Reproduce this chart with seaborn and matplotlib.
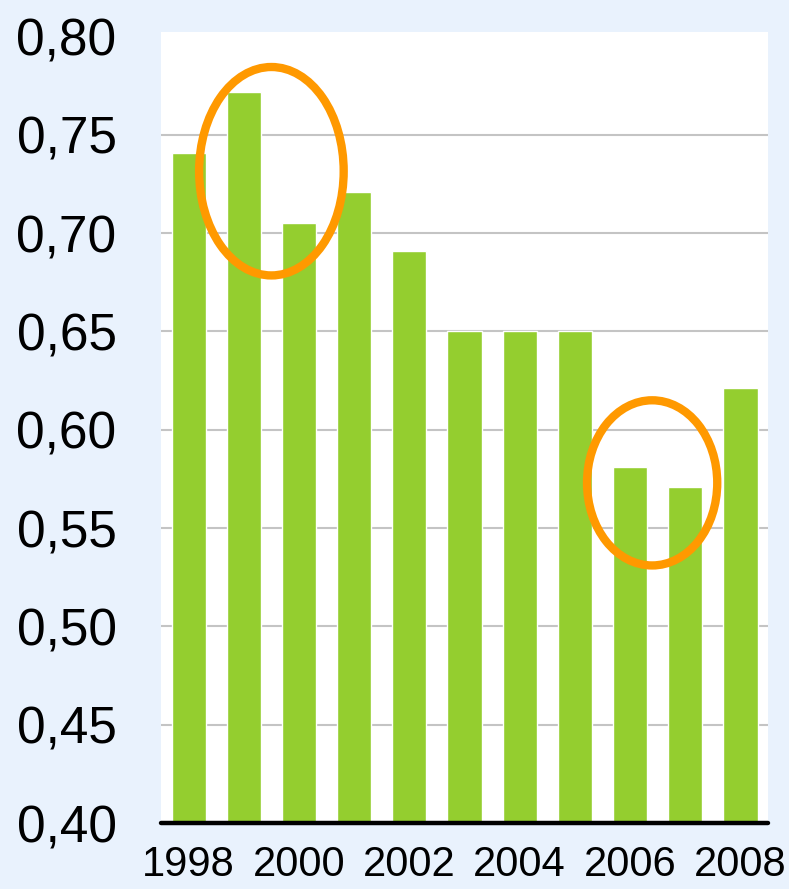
import pandas as pd
import matplotlib.pyplot as plt
import seaborn as sns
from matplotlib.patches import Ellipse
from matplotlib.ticker import FuncFormatter

sns.set_theme(style="white")
plt.rcParams['font.family'] = ['Liberation Sans', 'DejaVu Sans']

# Data
years = [1998, 1999, 2000, 2001, 2002, 2003, 2004, 2005, 2006, 2007, 2008]
values = [0.741, 0.772, 0.705, 0.721, 0.691, 0.65, 0.65, 0.65, 0.581, 0.571, 0.621]
# pairs of years circled in orange
highlights = [(1999, 2000), (2006, 2007)]

df = pd.DataFrame({'Year': [str(y) for y in years], 'Value': values})

bg = '#E9F2FD'
fig = plt.figure(figsize=(7.89, 8.89), dpi=100, facecolor=bg)
ax = fig.add_axes([0.2041, 0.0742, 0.7693, 0.8898])
ax.set_facecolor('white')

sns.barplot(data=df, x='Year', y='Value', color='#94CE2F', saturation=1,
            width=0.62, ax=ax, zorder=2)

ax.set_ylim(0.40, 0.8023)
ax.set_xlim(-0.5, len(years) - 0.5)
ax.set_yticks([0.40, 0.45, 0.50, 0.55, 0.60, 0.65, 0.70, 0.75, 0.80])
ax.yaxis.set_major_formatter(FuncFormatter(lambda v, p: f"{v:.2f}".replace('.', ',')))
for y in [0.45, 0.50, 0.55, 0.60, 0.65, 0.70, 0.75]:
    ax.axhline(y, color='#C4C4C4', linewidth=1.5, zorder=1)

ax.set_xticks(range(0, len(years), 2))
ax.set_xticklabels([str(y) for y in years[::2]])
ax.tick_params(axis='y', length=0, labelsize=37, pad=32, colors='black')
ax.tick_params(axis='x', length=0, labelsize=30, pad=16, colors='black')
ax.set_xlabel('')
ax.set_ylabel('')

for side in ['top', 'right', 'left']:
    ax.spines[side].set_visible(False)
ax.spines['bottom'].set_color('black')
ax.spines['bottom'].set_linewidth(3.2)
ax.spines['bottom'].set_capstyle('round')
ax.spines['bottom'].set_zorder(5)

# orange ellipses around the highlighted pairs
sizes = [(2.62, 0.106), (2.36, 0.084)]
offsets = [(0.0, -0.007), (-0.1, -0.003)]
for (a, b), (w, h), (dx, dy) in zip(highlights, sizes, offsets):
    ia, ib = years.index(a), years.index(b)
    cx = (ia + ib) / 2 + dx
    cy = (values[ia] + values[ib]) / 2 + dy
    ax.add_patch(Ellipse((cx, cy), w, h, fill=False, edgecolor='#FF9900',
                         linewidth=6, zorder=4, clip_on=False))

fig.savefig('out.png', dpi=100, facecolor=bg)
